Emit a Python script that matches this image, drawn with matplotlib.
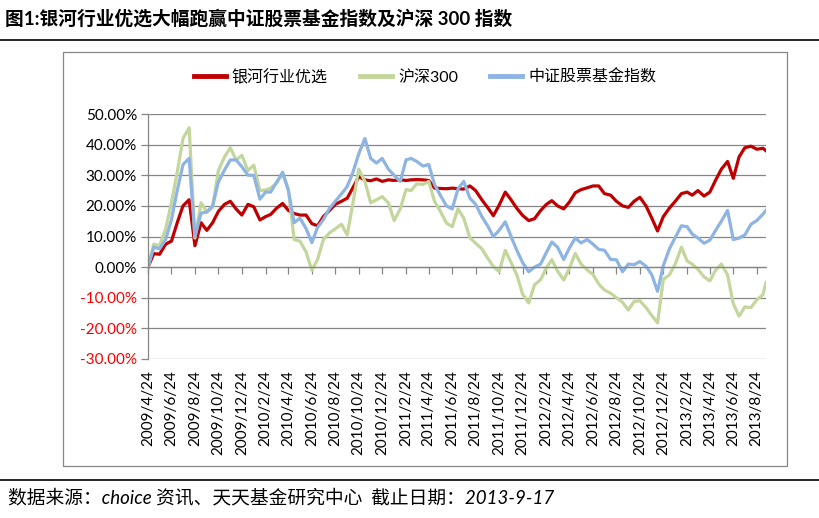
import matplotlib
matplotlib.use("Agg")
import matplotlib.pyplot as plt
import matplotlib.dates as mdates
from matplotlib.patches import Rectangle
from matplotlib.lines import Line2D
import pandas as pd

# half-month sampling dates (9th and 24th of each month) + last trading date
start, stop = pd.Timestamp('2009-04-24'), pd.Timestamp('2013-09-09')
dates = []
for yr in range(2009, 2014):
    for mo in range(1, 13):
        for dy in (9, 24):
            d = pd.Timestamp(yr, mo, dy)
            if start <= d <= stop:
                dates.append(d)
dates.append(pd.Timestamp('2013-09-17'))

# 银河行业优选 (cumulative return, %)
fund = [0, 4.4, 4.2, 7.5, 8.5, 14.5, 20, 22, 7, 14.5,
        12, 14.5, 18.2, 20.5, 21.5, 19, 17, 20.5, 19.7, 15.4,
        16.5, 17.2, 19.2, 20.8, 18.5, 17.5, 17, 17, 14.2, 13.5,
        16.5, 18.5, 20.5, 21.5, 22.5, 26, 29.5, 28.5, 28.2, 28.8,
        28, 28.5, 28.3, 28.5, 28.3, 28.5, 28.6, 28.5, 28.3, 25.8,
        25.7, 25.6, 25.8, 25.6, 25.5, 26.5, 25, 22, 19.5, 16.8,
        20.2, 24.5, 22, 19.2, 16.9, 15.2, 15.8, 18.5, 20.5, 21.7,
        20, 19, 21.3, 24.3, 25.3, 25.9, 26.5, 26.5, 24, 23.5,
        21.5, 20, 19.5, 21.5, 22.8, 20, 16, 11.8, 16.5, 19.3,
        21.5, 24, 24.5, 23.5, 25, 23.2, 24.5, 28.4, 32, 34.5,
        29, 36, 39, 39.5, 38.5, 38.8, 38]

# 沪深300
hs300 = [0, 7.5, 7, 12.5, 21, 31, 42, 45.5, 9.5, 21,
         18, 19.5, 31.5, 36, 39, 35, 36.5, 31.5, 33.3, 25,
         25.2, 25.8, 27.4, 30.5, 25.5, 9, 8.5, 5, -1, 2.5,
         9, 11.2, 12.5, 14, 10.5, 21, 32, 28, 21, 22,
         23, 21, 15.2, 19, 25.3, 25, 27.2, 27, 28, 21.5,
         18.3, 14.4, 13.2, 19, 16, 9.6, 7.8, 6, 3, 0.2,
         -1.5, 5.5, 1.5, -2.5, -8.8, -11.7, -5.8, -4.1, -0.2, 2.4,
         -1.3, -4.2, -0.3, 4.5, 1, -0.9, -2.4, -5.5, -7.5, -8.5,
         -10, -11.5, -14, -11.2, -11, -13.2, -15.8, -18.2, -4, -2.5,
         1, 6.5, 2, 1, -0.7, -3.2, -4.5, -1, 1, -2.5,
         -12, -16, -13, -13.2, -10.7, -9, -5]

# 中证股票基金指数
csi_fund = [0, 6.5, 6, 9, 15.5, 25, 33.5, 35.5, 10, 17.6,
            18, 20, 27.8, 31.7, 35, 35, 32.8, 30, 30, 22.2,
            24.5, 24.5, 27.6, 31, 25, 14.5, 16, 12.6, 8, 13,
            15.5, 19.2, 21.5, 23.9, 26.3, 31, 37, 42, 35.5, 34,
            35.5, 32, 30, 28, 35, 35.5, 34.5, 33, 33.5, 27,
            23.5, 20, 19, 25.5, 28, 22.5, 20.5, 16.5, 13.5, 10,
            12, 14.8, 10, 5.5, 1.5, -1.5, 0, 1, 4.8, 8.2,
            6.5, 2.5, 6.3, 9.5, 7.9, 9, 7.5, 5.8, 5.5, 2.5,
            2.4, -1.5, 1, 0.8, 1.8, 0.3, -2.5, -7.9, 0.5, 6,
            9.7, 13.5, 13.2, 10.8, 9.5, 7.8, 8.8, 12, 15, 18.5,
            9, 9.5, 10.5, 14, 15.2, 17.3, 18.5]

series_names = ['银河行业优选', '沪深300', '中证股票基金指数']
colors = ['#C00000', '#C3D69B', '#8DB4E2']
y_ticks = [50, 40, 30, 20, 10, 0, -10, -20, -30]

plt.rcParams['font.family'] = ['Lato', 'Noto Sans CJK SC', 'DejaVu Sans']

W, H = 819, 518
fig = plt.figure(figsize=(W / 100, H / 100), dpi=100)
ax = fig.add_axes([148 / W, 1 - 359 / H, (766 - 148) / W, (359 - 114) / H])

x = mdates.date2num(dates)
for vals, name, c in zip([fund, hs300, csi_fund], series_names, colors):
    ax.plot(x, vals, color=c, lw=2.3, label=name, solid_joinstyle='round')

ax.set_xlim(x[0], x[-1])
ax.set_ylim(-30, 50)
grid_c = '#868686'
ax.set_yticks(y_ticks)
ax.set_yticklabels(['%.2f%%' % v for v in y_ticks], fontsize=11)
for lab, v in zip(ax.get_yticklabels(), y_ticks):
    lab.set_color('#FF0000' if v < 0 else 'black')
ax.yaxis.grid(True, color=grid_c, lw=0.9)
ax.set_axisbelow(True)
ax.tick_params(axis='y', direction='out', length=5, color=grid_c, width=0.9, pad=3)

for s in ['top', 'right']:
    ax.spines[s].set_visible(False)
ax.spines['left'].set_color(grid_c)
ax.spines['left'].set_linewidth(0.9)
ax.spines['bottom'].set_position(('data', 0))
ax.spines['bottom'].set_color(grid_c)
ax.spines['bottom'].set_linewidth(0.9)

tick_dates = pd.date_range('2009-04-24', '2013-08-24', freq=pd.DateOffset(months=2))
tick_x = mdates.date2num(tick_dates)
ax.set_xticks(tick_x)
ax.tick_params(axis='x', direction='out', length=5, color=grid_c, width=0.9, labelbottom=False)

sec = ax.secondary_xaxis(0.0)
sec.set_xticks(tick_x)
sec.set_xticklabels([f'{d.year}/{d.month}/{d.day}' for d in tick_dates], rotation=90, fontsize=11)
sec.tick_params(axis='x', length=0, pad=8)
sec.spines['bottom'].set_visible(False)

fig.legend(loc='center', bbox_to_anchor=(425 / W, 1 - 77 / H), ncol=3, frameon=False,
           fontsize=11.5, handlelength=2.0, columnspacing=2.0, handletextpad=0.4)
for ln in fig.legends[0].get_lines():
    ln.set_linewidth(3.5)

# title, rules and chart frame
fig.text(5 / W, 1 - 18 / H, '图1:银河行业优选大幅跑赢中证股票基金指数及沪深 300 指数',
         fontsize=13.5, fontweight='bold', va='center', ha='left')
fig.add_artist(Line2D([0, 1], [1 - 40 / H] * 2, color='black', lw=1.2))
fig.add_artist(Rectangle((63 / W, 1 - 466 / H), (787 - 63) / W, (466 - 52) / H,
                         transform=fig.transFigure, fill=False, edgecolor=grid_c, lw=0.9))
fig.add_artist(Line2D([0, 1], [1 - 480 / H] * 2, color='black', lw=1.2))
fig.text(8 / W, 1 - 497 / H, '数据来源：choice 资讯、天天基金研究中心  截止日期：2013-9-17',
         fontsize=13.5, style='italic', va='center', ha='left')

fig.savefig('out.png', dpi=100)
